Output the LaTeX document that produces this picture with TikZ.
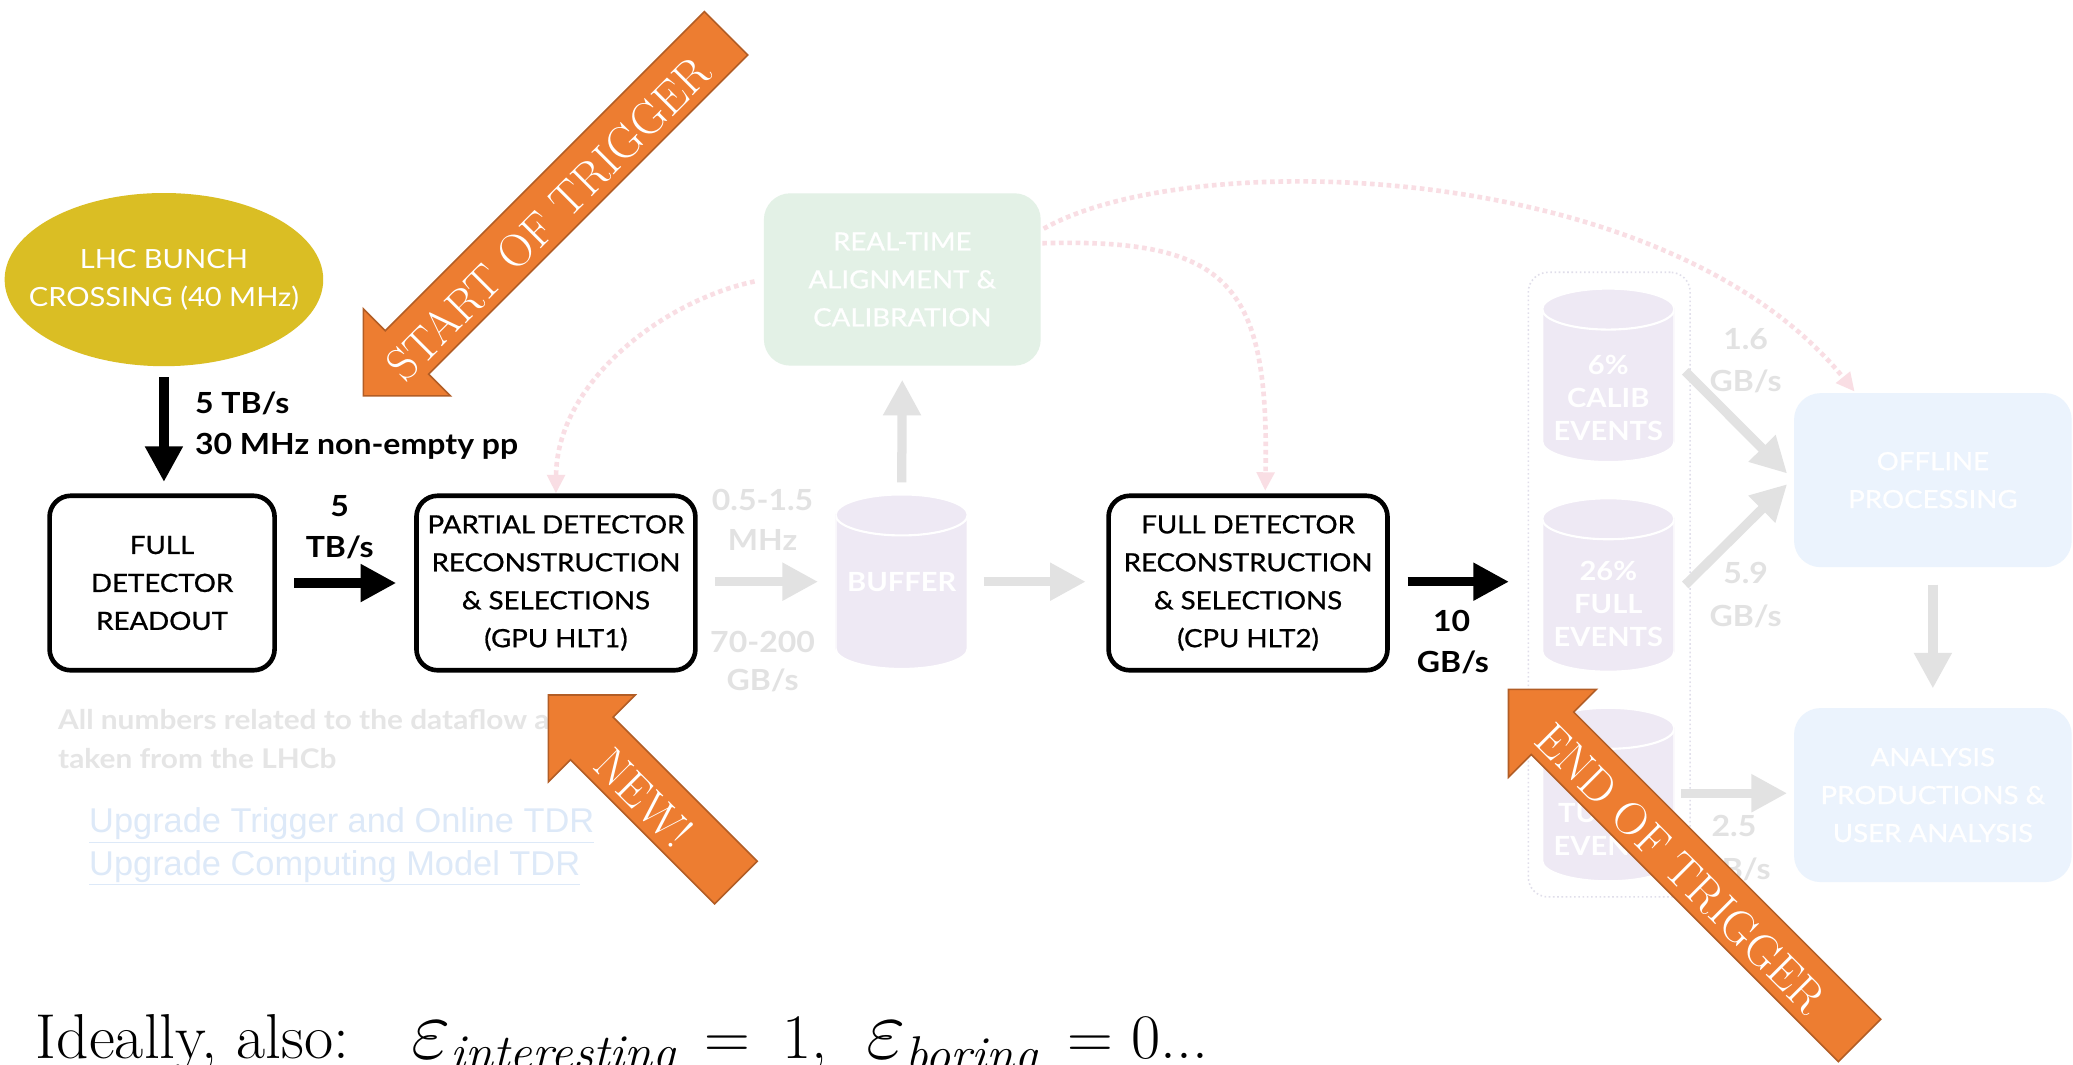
\RequirePackage{fix-cm}
\documentclass[tikz,border=0pt]{standalone}
\usepackage{fontspec}
\setsansfont{Lato}[FakeStretch=1.1]
\newfontfamily\boxfamily{Lato}[FakeStretch=1.1,FakeBold=0.8]
\newfontfamily\linkfamily{Liberation Sans}
\usepackage{tikz}
\usetikzlibrary{arrows.meta}
\tikzset{flow/.style = {line width = 7pt, -{Triangle[length = 27pt, width = 27pt]}}}
\usetikzlibrary{calc}
\usetikzlibrary{shapes.geometric}
\tikzset{box/.style = {draw = black, line width = 3.5pt, rounded corners = 16pt, fill = white, minimum width = 211pt, minimum height = 132pt, inner sep = 0pt, align = center, font = \boxfamily\fontsize{19}{28.7}\selectfont}}
\tikzset{softbox/.style = {draw = none, rounded corners = 20pt, minimum width = 210pt, minimum height = 131.6pt, inner sep = 0pt, align = center, text = white, font = \boxfamily\fontsize{19}{28.7}\selectfont}}
\tikzset{drum/.style = {minimum width = 100pt, minimum height = 131.2pt, inner sep = 0pt, fill = white, text = white, font = \sffamily\bfseries\fontsize{20}{25}\selectfont,
  path picture = {
    \path[fill = drumLilac, draw = white, line width = 1.6pt] ([yshift = -15.5pt]path picture bounding box.north west) -- ([yshift = 15.5pt]path picture bounding box.south west) arc[start angle = 180, end angle = 360, x radius = 50pt, y radius = 15.5pt] -- ([yshift = -15.5pt]path picture bounding box.north east) arc[start angle = 0, end angle = 180, x radius = 50pt, y radius = 15.5pt] -- cycle;
    \path[draw = white, line width = 1.6pt] ([yshift = -15.5pt]path picture bounding box.north west) arc[start angle = 180, end angle = 360, x radius = 50pt, y radius = 15.5pt];
  }}}
\tikzset{drumtext/.style = {inner sep = 0pt, align = center, text = white, font = \sffamily\bfseries\fontsize{20}{25}\selectfont}}
\tikzset{rate/.style = {anchor = base, inner sep = 0pt, outer sep = 0pt, font = \sffamily\bfseries\fontsize{22}{22}\selectfont}}
\tikzset{sync/.style = {line width = 3.5pt, dash pattern = on 3.5pt off 2.8pt, -{Triangle[length = 14pt, width = 13pt]}}}
\tikzset{callout/.style = {line width = 1.2pt, line join = miter}}
\tikzset{callouttext/.style = {inner sep = 0pt, text = white, font = \rmfamily\fontsize{35}{35}\selectfont}}

\begin{document}
\begin{tikzpicture}[x=1pt,y=1pt]
\definecolor{fillColor}{RGB}{255,255,255}
\path[use as bounding box,fill=fillColor] (0,0) rectangle (1568,805);
\definecolor{fadeGray}{RGB}{226,226,226}
\definecolor{noteGray}{RGB}{229,229,229}
\definecolor{drumLilac}{RGB}{238,233,244}
\definecolor{storeEdge}{RGB}{224,222,234}
\definecolor{alignGreen}{RGB}{227,241,230}
\definecolor{offlineBlue}{RGB}{235,243,253}
\definecolor{syncPink}{RGB}{249,222,228}
\definecolor{lhcGold}{RGB}{218,190,36}
\definecolor{calloutOrange}{RGB}{237,125,49}
\definecolor{calloutEdge}{RGB}{178,93,37}
\definecolor{linkBlue}{RGB}{221,233,248}

\begin{scope}
\node[ellipse, fill=lhcGold, minimum width=241pt, minimum height=131pt, inner xsep=-20pt, inner ysep=0pt, align=center, text=white, font=\sffamily\fontsize{20}{29}\selectfont] (lhc) at (124.0,593.5) {LHC BUNCH\\CROSSING (40 MHz)};
\node[box, minimum width=170.2pt] (full) at (122.6,364.0) {FULL\\DETECTOR\\READOUT};
\node[box] (hlt1) at (420.5,364.0) {PARTIAL DETECTOR\\RECONSTRUCTION\\\& SELECTIONS\\(GPU HLT1)};
\node[box] (hlt2) at (944.0,364.0) {FULL DETECTOR\\RECONSTRUCTION\\\& SELECTIONS\\(CPU HLT2)};
\end{scope}

\begin{scope}
\node[softbox, fill=alignGreen, minimum width=209.4pt, minimum height=130.4pt] (align) at (682.5,593.6) {REAL-TIME\\ALIGNMENT \&\\CALIBRATION};
\node[drum, minimum height=132pt] (buffer) at (682.0,365.0) {BUFFER};
\node[draw=storeEdge, dotted, line width=1.2pt, rounded corners=15pt, minimum width=122.4pt, minimum height=472.5pt] (store) at (1217.2,362.8) {};
\node[drum] (calib) at (1216.5,521.1) {};
\node[drum] (fullev) at (1216.5,362.5) {};
\node[drum] (turbo) at (1216.5,204.0) {};
\node[drumtext] (calibtext) at (1216.5,504.3) {6\%\\CALIB\\EVENTS};
\node[drumtext] (fullevtext) at (1216.5,348.0) {26\%\\FULL\\EVENTS};
\node[drumtext] (turbotext) at (1216.5,177.3) {TURBO\\EVENTS};
\node[softbox, fill=offlineBlue] (offline) at (1462.0,441.8) {OFFLINE\\PROCESSING};
\node[softbox, fill=offlineBlue] (analysis) at (1462.0,203.6) {ANALYSIS\\PRODUCTIONS \&\\USER ANALYSIS};
\end{scope}

\begin{scope}[draw=fadeGray]
\draw[flow, draw=fadeGray, shorten <=13pt, shorten >=13pt] (hlt1.east |- 0,365) -- (buffer.west);
\draw[flow, draw=fadeGray, shorten <=12pt, shorten >=15.5pt] (buffer.east) -- (buffer.east -| hlt2.west);
\draw[flow, draw=fadeGray, shorten <=9pt, shorten >=10.4pt] (buffer.north) -- (align.south);
\draw[flow, draw=fadeGray] ($(calib.east)+(8,3)$) -- ($(offline.west)+(-5,5)$);
\draw[flow, draw=fadeGray] ($(fullev.east)+(8,0)$) -- ($(offline.west)+(-5,-3)$);
\draw[flow, draw=fadeGray] ($(turbo.east)+(5,1)$) -- ($(analysis.west)+(-5,1.4)$);
\draw[flow, draw=fadeGray, shorten <=13pt, shorten >=14.6pt] (offline.south) -- (analysis.north);
\end{scope}

\begin{scope}
\node[rate, text=fadeGray] (mhzA) at (576.8,419.2) {0.5-1.5};
\node[rate, text=fadeGray] (mhzB) at (576.8,388.4) {MHz};
\node[rate, text=fadeGray] (gbsA) at (576.8,311.3) {70-200};
\node[rate, text=fadeGray] (gbsB) at (576.8,282.5) {GB/s};
\node[rate, text=fadeGray] (calibA) at (1320.4,541.0) {1.6};
\node[rate, text=fadeGray] (calibB) at (1320.4,508.7) {GB/s};
\node[rate, text=fadeGray] (fullevA) at (1320.4,363.8) {5.9};
\node[rate, text=fadeGray] (fullevB) at (1320.4,330.8) {GB/s};
\node[rate, text=fadeGray] (turboA) at (1311.6,172.5) {2.5};
\node[rate, text=fadeGray] (turboB) at (1312.0,139.5) {GB/s};
\node[rate, anchor=base west, text=noteGray, font=\sffamily\bfseries\fontsize{20.5}{20.5}\selectfont] (noteA) at (44.0,253.0) {All numbers related to the dataflow are};
\node[rate, anchor=base west, text=noteGray, font=\sffamily\bfseries\fontsize{20.5}{20.5}\selectfont] (noteB) at (44.0,224.0) {taken from the LHCb};
\node[rate, anchor=base west, text=linkBlue, font=\linkfamily\fontsize{26}{26}\selectfont] (tdrA) at (67.5,175.0) {\underline{Upgrade Trigger and Online TDR}};
\node[rate, anchor=base west, text=linkBlue, font=\linkfamily\fontsize{26}{26}\selectfont] (tdrB) at (67.5,143.0) {\underline{Upgrade Computing Model TDR}};
\end{scope}

\begin{scope}[draw=syncPink]
\draw[sync, draw=syncPink, shorten <=7pt] (align.west) .. controls (500,577) and (421,515) .. (hlt1.north);
\draw[sync, draw=syncPink] ($(align.east)+(1,27.4)$) .. controls (930,625) and (960,590) .. ($(hlt2.north)+(13,2)$);
\draw[sync, draw=syncPink] ($(align.east)+(2,38.4)$) .. controls (900,695) and (1260,685) .. ($(offline.north west)+(46,1)$);
\end{scope}

\begin{scope}
\draw[flow] (lhc.south) ++(0,-8) -- (lhc.south |- 0,440.4);
\draw[flow, shorten <=13.3pt, shorten >=13.5pt] (full.east) -- (hlt1.west);
\draw[flow, shorten <=13.4pt, shorten >=14pt] (hlt2.east |- 0,365) -- (store.west |- 0,365);
\node[rate, anchor=base west] (rateA) at (147.6,492.0) {5 TB/s};
\node[rate, anchor=base west] (ppA) at (147.6,461.0) {30 MHz non-empty pp};
\node[rate] (rateB) at (257.0,414.2) {5};
\node[rate] (tbsB) at (257.0,383.0) {TB/s};
\node[rate] (rateC) at (1098.0,327.0) {10};
\node[rate] (gbsC) at (1099.0,296.0) {GB/s};
\end{scope}

\begin{scope}[shift={(274.8,505.5)}, rotate=225]
\path[callout, fill=calloutOrange, draw=calloutEdge] (0,0) -- (-46.6,46.6) -- (-46.6,23.2) -- (-388.0,23.2) -- (-388.0,-23.2) -- (-46.6,-23.2) -- (-46.6,-46.6) -- cycle;
\node[callouttext, rotate=45] (starttrig) at (-194.0,4.0) {START OF TRIGGER};
\end{scope}
\begin{scope}[shift={(414.8,279.3)}, rotate=135]
\path[callout, fill=calloutOrange, draw=calloutEdge] (0,0) -- (-46.4,46.4) -- (-46.4,22.8) -- (-200.6,22.8) -- (-200.6,-22.8) -- (-46.4,-22.8) -- (-46.4,-46.4) -- cycle;
\node[callouttext, rotate=-45] (newtrig) at (-106.0,4.0) {NEW!};
\end{scope}
\begin{scope}[shift={(1141.0,283.6)}, rotate=135]
\path[callout, fill=calloutOrange, draw=calloutEdge] (0,0) -- (-47.0,47.0) -- (-47.0,22.7) -- (-375.6,22.7) -- (-375.6,-22.7) -- (-47.0,-22.7) -- (-47.0,-47.0) -- cycle;
\node[callouttext, rotate=-45] (endtrig) at (-188.0,3.5) {END OF TRIGGER};
\end{scope}

\node[anchor=base west, inner sep=0pt, font=\rmfamily\fontsize{48}{48}\selectfont] (ideal) at (27.0,4.5) {\makebox[284pt][l]{Ideally, also:}\makebox[222pt][l]{$\scalebox{1.35}{$\varepsilon$}_{\mbox{\fontsize{38}{38}\selectfont\itshape interesting}}$}\makebox[122pt][l]{$=$\hspace{24pt}1,}\makebox[152pt][l]{$\scalebox{1.35}{$\varepsilon$}_{\mbox{\fontsize{38}{38}\selectfont\itshape boring}}$}$=$\hspace{14pt}0...};
\end{tikzpicture}
\end{document}
